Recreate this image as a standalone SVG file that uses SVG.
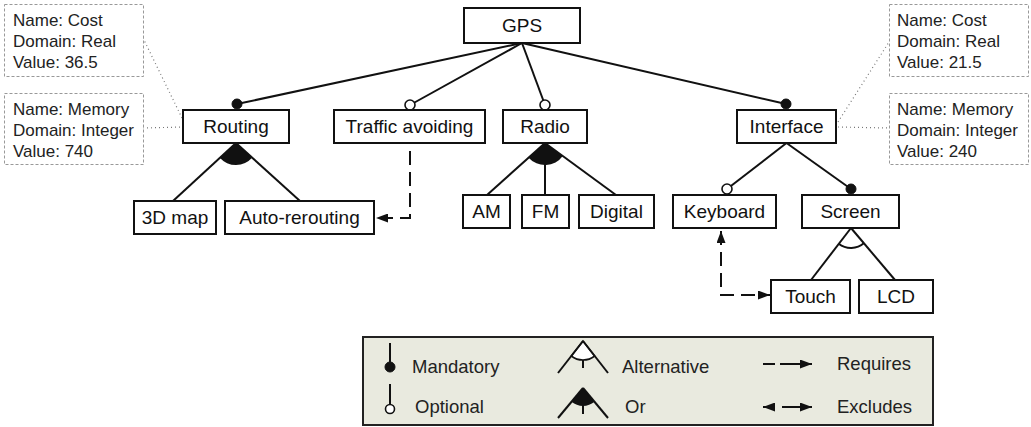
<svg xmlns="http://www.w3.org/2000/svg" width="1031" height="427" viewBox="0 0 1031 427">
<style>
.box{fill:#fff;stroke:#111;stroke-width:2}
.lbl{font-family:"Liberation Sans",Arial,sans-serif;font-size:19px;fill:#111;text-anchor:middle}
.attr{fill:#fff;stroke:#999;stroke-width:1;stroke-dasharray:3 2}
.at{font-family:"Liberation Sans",Arial,sans-serif;font-size:17px;fill:#222}
.ln{stroke:#111;stroke-width:2;fill:none}
.dot{stroke:#777;stroke-width:1.2;stroke-dasharray:1 3;fill:none}
.dash{stroke:#111;stroke-width:2;fill:none;stroke-dasharray:14 7}
.man{fill:#111;stroke:#111;stroke-width:1}
.opt{fill:#fff;stroke:#111;stroke-width:1.6}
.lg{font-family:"Liberation Sans",Arial,sans-serif;font-size:18.5px;fill:#222}
</style>
<defs>
<marker id="arr" markerUnits="userSpaceOnUse" markerWidth="13" markerHeight="9" refX="12" refY="4.5" orient="auto-start-reverse">
<path d="M0,0 L12,4.5 L0,9 z" fill="#111"/>
</marker>
</defs>
<rect width="1031" height="427" fill="#fff"/>

<g id="connectors">
<line class="ln" x1="522" y1="43" x2="237" y2="104"/>
<line class="ln" x1="522" y1="43" x2="410" y2="105"/>
<line class="ln" x1="522" y1="43" x2="545" y2="105"/>
<line class="ln" x1="522" y1="43" x2="786" y2="104"/>
<line class="ln" x1="786.5" y1="143" x2="727" y2="189"/>
<line class="ln" x1="786.5" y1="143" x2="851" y2="189"/>
<circle class="man" cx="237" cy="104" r="5"/>
<circle class="opt" cx="410" cy="105" r="5"/>
<circle class="opt" cx="545" cy="105" r="5"/>
<circle class="man" cx="786" cy="104" r="5"/>
<circle class="opt" cx="727" cy="189" r="5"/>
<circle class="man" cx="851" cy="189" r="5"/>
<!-- Routing Or -->
<path d="M236,143 L219.7,157.8 A22,22 0 0 0 252.4,157.6 Z" fill="#111"/>
<line class="ln" x1="236" y1="143" x2="173" y2="201"/>
<line class="ln" x1="236" y1="143" x2="300" y2="201"/>
<!-- Radio Or -->
<path d="M545,143 L528.6,157.7 A22,22 0 0 0 562.8,156 Z" fill="#111"/>
<line class="ln" x1="545" y1="143" x2="487" y2="195"/>
<line class="ln" x1="545" y1="143" x2="545" y2="195"/>
<line class="ln" x1="545" y1="143" x2="616" y2="195"/>
<!-- Screen Alternative -->
<path class="ln" d="M838.7,243.7 A20,20 0 0 0 864.1,243.1"/>
<line class="ln" x1="851" y1="228" x2="811" y2="280"/>
<line class="ln" x1="851" y1="228" x2="895" y2="280"/>
<!-- requires -->
<path class="dash" d="M410,151 V218 H376" marker-end="url(#arr)"/>
<!-- excludes -->
<path class="dash" d="M721,231 V295 H770" marker-start="url(#arr)" marker-end="url(#arr)"/>
<!-- attribute links -->
<line class="dot" x1="143" y1="38" x2="183" y2="120"/>
<line class="dot" x1="143" y1="128" x2="183" y2="127"/>
<line class="dot" x1="838" y1="122" x2="889" y2="42"/>
<line class="dot" x1="838" y1="127" x2="889" y2="128"/>
</g>

<g id="GPS"><rect class="box" x="464" y="8" width="116" height="35"/><text class="lbl" x="522" y="32">GPS</text></g>
<g id="Routing"><rect class="box" x="183" y="110" width="106" height="33"/><text class="lbl" x="236" y="133">Routing</text></g>
<g id="TrafficAvoiding"><rect class="box" x="334" y="110" width="151" height="33"/><text class="lbl" x="409.5" y="133">Traffic avoiding</text></g>
<g id="Radio"><rect class="box" x="503" y="110" width="84" height="33"/><text class="lbl" x="545" y="133">Radio</text></g>
<g id="Interface"><rect class="box" x="737" y="110" width="99" height="33"/><text class="lbl" x="786.5" y="133">Interface</text></g>
<g id="Map3D"><rect class="box" x="134" y="201" width="82" height="33"/><text class="lbl" x="175" y="224">3D map</text></g>
<g id="AutoRerouting"><rect class="box" x="225" y="201" width="149" height="33"/><text class="lbl" x="299.5" y="224">Auto-rerouting</text></g>
<g id="AM"><rect class="box" x="463" y="195" width="47" height="33"/><text class="lbl" x="486.5" y="218">AM</text></g>
<g id="FM"><rect class="box" x="522" y="195" width="47" height="33"/><text class="lbl" x="545.5" y="218">FM</text></g>
<g id="Digital"><rect class="box" x="579" y="195" width="75" height="33"/><text class="lbl" x="616.5" y="218">Digital</text></g>
<g id="Keyboard"><rect class="box" x="673" y="195" width="103" height="33"/><text class="lbl" x="724.5" y="218">Keyboard</text></g>
<g id="Screen"><rect class="box" x="802" y="195" width="97" height="33"/><text class="lbl" x="850.5" y="218">Screen</text></g>
<g id="Touch"><rect class="box" x="771" y="280" width="79" height="33"/><text class="lbl" x="810.5" y="303">Touch</text></g>
<g id="LCD"><rect class="box" x="859" y="280" width="74" height="33"/><text class="lbl" x="896" y="303">LCD</text></g>

<g id="RoutingCost"><rect class="attr" x="4.5" y="4.5" width="139" height="72"/>
<text class="at" x="13" y="26">Name: Cost</text><text class="at" x="13" y="47">Domain: Real</text><text class="at" x="13" y="68">Value: 36.5</text></g>
<g id="RoutingMemory"><rect class="attr" x="4.5" y="93.5" width="139" height="71"/>
<text class="at" x="13" y="115">Name: Memory</text><text class="at" x="13" y="136">Domain: Integer</text><text class="at" x="13" y="157">Value: 740</text></g>
<g id="InterfaceCost"><rect class="attr" x="889.5" y="4.5" width="139" height="72"/>
<text class="at" x="897" y="26">Name: Cost</text><text class="at" x="897" y="47">Domain: Real</text><text class="at" x="897" y="68">Value: 21.5</text></g>
<g id="InterfaceMemory"><rect class="attr" x="889.5" y="93.5" width="139" height="71"/>
<text class="at" x="897" y="115">Name: Memory</text><text class="at" x="897" y="136">Domain: Integer</text><text class="at" x="897" y="157">Value: 240</text></g>

<g id="legend">
<rect x="363" y="337" width="570" height="88" fill="#e9eadf" stroke="#222" stroke-width="2"/>
<line class="ln" x1="390" y1="343" x2="390" y2="362"/>
<circle class="man" cx="390" cy="367" r="5"/>
<text class="lg" x="412" y="373">Mandatory</text>
<line class="ln" x1="390" y1="384" x2="390" y2="404"/>
<circle class="opt" cx="390" cy="409" r="4.5"/>
<text class="lg" x="415" y="413">Optional</text>
<path d="M583,341 L571.3,356 A19,19 0 0 0 594.7,356 Z" fill="#fff" stroke="#111" stroke-width="1.6"/>
<line class="ln" x1="583" y1="341" x2="558" y2="373"/>
<line class="ln" x1="583" y1="341" x2="608" y2="373"/>
<line class="ln" x1="583" y1="360" x2="583" y2="368"/>
<text class="lg" x="622" y="373">Alternative</text>
<path d="M583,388 L571.5,401.8 A18,18 0 0 0 594.5,401.8 Z" fill="#111"/>
<line class="ln" x1="583" y1="388" x2="558" y2="418"/>
<line class="ln" x1="583" y1="388" x2="608" y2="418"/>
<line class="ln" x1="583" y1="405" x2="583" y2="414"/>
<text class="lg" x="625" y="413">Or</text>
<line class="ln" x1="763" y1="364" x2="775" y2="364"/>
<line class="ln" x1="780" y1="364" x2="812" y2="364" marker-end="url(#arr)"/>
<text class="lg" x="837" y="370">Requires</text>
<line class="ln" x1="763" y1="407" x2="775" y2="407" marker-start="url(#arr)"/>
<line class="ln" x1="782" y1="407" x2="812" y2="407" marker-end="url(#arr)"/>
<text class="lg" x="837" y="413">Excludes</text>
</g>
</svg>
